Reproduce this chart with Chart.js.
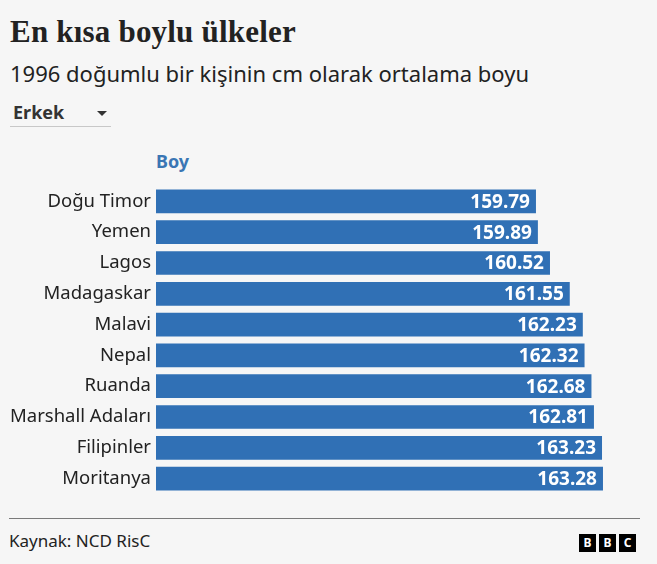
<!DOCTYPE html>
<html lang="tr">
<head>
<meta charset="utf-8">
<script src="https://cdn.jsdelivr.net/npm/chart.js@4/dist/chart.umd.min.js"></script>
<style>
  html, body { margin:0; padding:0; background:#f6f6f6; }
  body { width:657px; height:564px; position:relative; overflow:hidden; font-family:'Noto Sans', sans-serif; color:#222; }
  #title { position:absolute; left:10px; top:14px; font-family:'Liberation Serif', serif; font-weight:bold; font-size:31px; color:#222; white-space:nowrap; letter-spacing:0.2px; }
  #subtitle { position:absolute; left:10px; top:58px; font-size:22px; color:#222; white-space:nowrap; }
  #select { position:absolute; left:10px; top:100px; width:101px; height:26px; border-bottom:1px solid #c8c8c8; }
  #select span { position:absolute; left:3px; top:0px; font-weight:bold; font-size:18px; color:#333; }
  #select i { position:absolute; left:87px; top:11px; width:0; height:0; border-left:5px solid transparent; border-right:5px solid transparent; border-top:5px solid #333; }
  #legend { position:absolute; left:156px; top:149px; font-weight:bold; font-size:18px; color:#3a76b4; }
  #chartwrap { position:absolute; left:0; top:186px; width:657px; height:308px; }
  #rule { position:absolute; left:9px; top:518px; width:631px; height:0; border-top:1px solid #7a7a7a; }
  #source { position:absolute; left:9px; top:529px; font-size:17px; color:#222; }
  #bbc { position:absolute; left:579px; top:530px; }
  #bbc b { display:inline-block; width:17px; height:18px; background:#000; color:#fff; font-size:12px; line-height:18px; text-align:center; margin-right:3px; font-family:'Noto Sans', sans-serif; }
</style>
</head>
<body>
<div id="title">En kısa boylu ülkeler</div>
<div id="subtitle">1996 doğumlu bir kişinin cm olarak ortalama boyu</div>
<div id="select"><span>Erkek</span><i></i></div>
<div id="legend">Boy</div>
<div id="chartwrap"><canvas id="c"></canvas></div>
<div id="rule"></div>
<div id="source">Kaynak: NCD RisC</div>
<div id="bbc"><b>B</b><b>B</b><b style="margin-right:0">C</b></div>
<script>
const categories = ["Doğu Timor","Yemen","Lagos","Madagaskar","Malavi","Nepal","Ruanda","Marshall Adaları","Filipinler","Moritanya"];
const heights = [159.79,159.89,160.52,161.55,162.23,162.32,162.68,162.81,163.23,163.28];
const seriesName = "Boy";
const axisMin = 140;
const axisMax = 165;

Chart.defaults.font.family = "'Noto Sans', sans-serif";

const valueLabels = {
  id: 'valueLabels',
  afterDatasetsDraw(chart) {
    const ctx = chart.ctx;
    const meta = chart.getDatasetMeta(0);
    ctx.save();
    ctx.fillStyle = '#ffffff';
    ctx.font = "bold 19px 'Noto Sans', sans-serif";
    ctx.textAlign = 'right';
    ctx.textBaseline = 'middle';
    meta.data.forEach((bar, i) => {
      ctx.fillText(heights[i].toFixed(2), bar.x - 6, bar.y + 1);
    });
    ctx.restore();
  }
};

new Chart(document.getElementById('c'), {
  type: 'bar',
  data: {
    labels: categories,
    datasets: [{
      label: seriesName,
      data: heights,
      backgroundColor: '#3070b5',
      borderWidth: 0,
      barPercentage: 0.77,
      categoryPercentage: 1.0
    }]
  },
  options: {
    indexAxis: 'y',
    responsive: true,
    maintainAspectRatio: false,
    animation: false,
    layout: { padding: { left: 0, right: 21, top: 0, bottom: 0 } },
    plugins: { legend: { display: false }, tooltip: { enabled: false } },
    scales: {
      x: { display: false, min: axisMin, max: axisMax },
      y: {
        grid: { display: false, drawTicks: false },
        border: { display: false },
        ticks: { color: '#222', font: { size: 18.5 }, padding: 5 },
        afterFit: (s) => { s.width = 156; s.paddingTop = 0; s.paddingBottom = 0; }
      }
    }
  },
  plugins: [valueLabels]
});
</script>
</body>
</html>
